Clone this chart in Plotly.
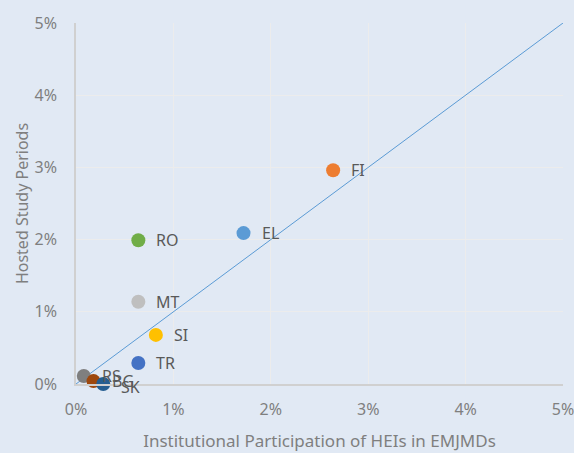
import plotly.graph_objects as go

countries = ["FI", "EL", "RO", "MT", "SI", "TR", "RS", "BG", "SK"]
participation = [0.0264, 0.0172, 0.0064, 0.0064, 0.0082, 0.0064, 0.0008, 0.0018, 0.0028]
hosted = [0.0296, 0.0209, 0.0199, 0.0114, 0.0068, 0.0029, 0.0011, 0.0004, 0.0000]
colors = ["#ED7D31", "#5B9BD5", "#70AD47", "#BFBFBF", "#FFC000", "#4472C4", "#7F7F7F", "#9E480E", "#255E91"]
label_dy = [0, 0, 0, 0, 0, 0, 0, 0, -3]

line_x = [0, 0.05]
line_y = [0, 0.05]
tick_vals = [0, 0.01, 0.02, 0.03, 0.04, 0.05]
tick_text = ["0%", "1%", "2%", "3%", "4%", "5%"]

font = "Noto Sans"
grey = "#7F7F7F"
bg = "#E1E9F4"

fig = go.Figure()
fig.add_trace(go.Scatter(x=line_x, y=line_y, mode="lines",
                         line=dict(color="#5B9BD5", width=1), hoverinfo="skip",
                         showlegend=False))
fig.add_trace(go.Scatter(x=participation, y=hosted, mode="markers",
                         marker=dict(color=colors, size=14), showlegend=False,
                         cliponaxis=False))

for c, xv, yv, dy in zip(countries, participation, hosted, label_dy):
    fig.add_annotation(x=xv, y=yv, text=c, showarrow=False, xanchor="left",
                       xshift=16, yshift=dy, font=dict(family=font, size=16, color="#595959"))

fig.update_layout(
    width=574, height=453,
    paper_bgcolor=bg, plot_bgcolor=bg,
    margin=dict(l=76, r=11, t=23, b=69),
    font=dict(family=font, color=grey),
    xaxis=dict(range=[0, 0.05], tickvals=tick_vals, ticktext=tick_text,
               showgrid=True, gridcolor="#ECECEC", gridwidth=1,
               zeroline=False, showline=True, linecolor="#D0D0D0", linewidth=1.5,
               tickfont=dict(size=16, color=grey), ticklabelstandoff=10,
               ticklabeloverflow="allow", automargin=False,
               title=dict(text="Institutional Participation of HEIs in EMJMDs",
                          font=dict(size=17, color=grey), standoff=16)),
    yaxis=dict(range=[0, 0.05], tickvals=tick_vals, ticktext=tick_text,
               showgrid=True, gridcolor="#ECECEC", gridwidth=1,
               zeroline=False, showline=True, linecolor="#D0D0D0", linewidth=1.5,
               tickfont=dict(size=16, color=grey), ticklabelstandoff=14,
               ticklabeloverflow="allow", automargin=False,
               title=dict(text="Hosted Study Periods",
                          font=dict(size=16, color=grey), standoff=2)),
)

fig.write_html("out.html", config={"displayModeBar": False},
               post_script="document.body.style.margin='0';document.body.style.background='%s';" % bg)
